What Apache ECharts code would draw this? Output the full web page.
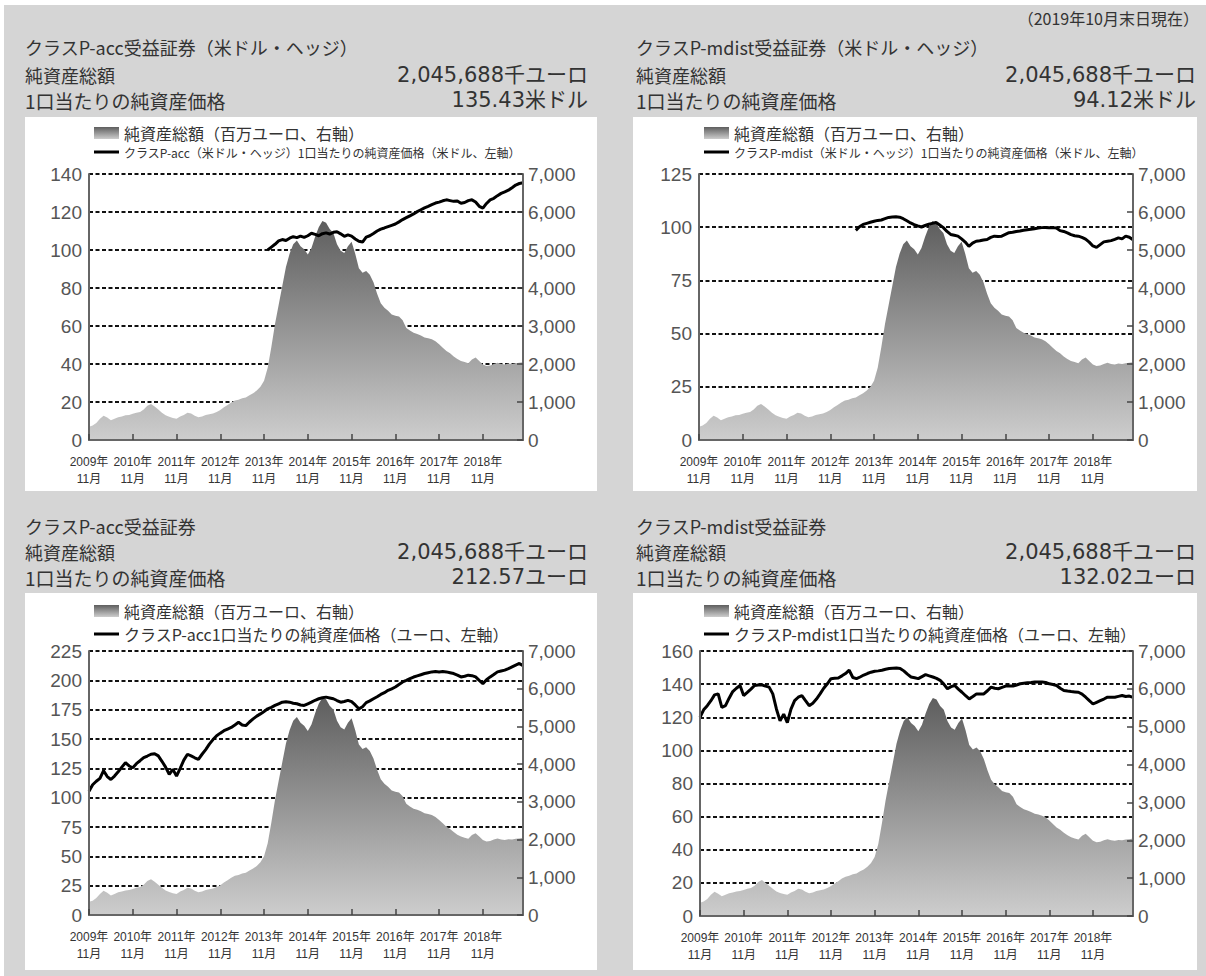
<!DOCTYPE html>
<html><head><meta charset="utf-8">
<script src="https://cdn.jsdelivr.net/npm/echarts@6/dist/echarts.min.js"></script>
<style>html,body{margin:0;padding:0;background:#fff}#c{width:1206px;height:976px}</style>
</head><body><div id="c"></div>
<script>
// ---------- data ----------
const startYear = 2009, startMonth = 11, monthCount = 120; // 2009-11 .. 2019-10
const months = [];
for (let k = 0; k < monthCount; k++) {
  const m0 = startMonth - 1 + k;
  months.push((startYear + Math.floor(m0 / 12)) + '-' + (m0 % 12 + 1));
}
// 純資産総額 (百万ユーロ) - fund total, monthly 2009-11 .. 2019-10
const aumMillionEur = [
  350,380,450,560,640,590,520,560,600,620,650,660,
  690,720,740,800,900,950,880,800,720,650,610,580,
  560,620,660,720,700,640,600,620,660,680,700,740,
  790,860,920,990,1040,1060,1100,1120,1180,1230,1300,1400,
  1560,1900,2450,3050,3550,4050,4550,4900,5150,5250,5100,5020,
  4880,5050,5350,5600,5760,5720,5550,5450,5150,4980,4920,5100,
  5220,4900,4520,4400,4450,4350,4150,3850,3600,3480,3400,3300,
  3270,3250,3150,2950,2880,2820,2790,2750,2700,2680,2650,2600,
  2520,2430,2340,2280,2200,2130,2080,2050,2020,2120,2170,2080,
  1990,1950,1960,2000,2030,2000,1990,2010,2000,2020,2030,2045
];
// クラスP-acc (米ドル・ヘッジ) NAV, from 2013-12
const usdAccStartIndex = 49;
const usdAccNav = [
  100.0,101.5,103.0,104.8,105.5,105.0,106.2,107.0,106.5,107.3,106.6,
  107.5,108.8,108.2,107.5,108.6,109.0,108.4,109.3,109.6,108.5,107.2,108.0,
  107.3,105.8,104.6,104.2,106.8,107.5,108.7,110.0,111.0,111.6,112.3,113.0,
  113.7,114.8,116.0,117.0,118.0,119.0,120.2,121.2,122.2,123.0,123.9,124.7,
  125.2,125.9,126.4,126.0,125.6,125.8,124.6,125.0,126.0,126.4,125.3,123.0,
  122.0,124.5,126.4,127.2,128.6,129.8,130.6,131.5,132.8,134.2,135.0,135.43
];
// クラスP-mdist (米ドル・ヘッジ) NAV, from 2013-06
const usdMdistStartIndex = 43;
const usdMdistNav = [
  98.5,100.2,101.3,101.8,102.3,
  102.8,103.2,103.4,104.0,104.6,104.8,104.9,104.7,104.0,103.0,102.0,101.2,
  100.6,100.1,100.8,101.4,101.8,102.2,101.0,99.8,98.0,96.6,96.2,95.8,
  94.5,93.0,91.0,92.5,93.4,93.6,94.0,94.2,95.2,95.8,95.6,95.8,
  96.6,97.4,97.6,98.0,98.2,98.6,98.8,99.0,99.3,99.6,99.8,99.9,
  99.7,99.8,99.6,98.4,98.0,97.3,96.5,96.0,95.8,95.2,94.4,93.0,
  91.2,90.5,91.8,93.1,93.4,93.7,94.3,95.0,94.5,95.8,95.3,94.12
];
// クラスP-acc (ユーロ) NAV
const eurAccNav = [
  105.5,111.0,114.0,116.5,123.0,118.0,115.5,118.4,122.0,126.0,129.8,127.0,
  125.5,129.0,131.5,134.1,135.5,137.0,137.5,135.6,131.0,126.0,119.8,124.1,
  118.4,125.0,132.0,137.0,135.6,134.0,132.7,137.0,141.0,145.6,149.5,152.8,
  155.0,157.1,158.5,159.9,162.0,164.2,162.0,161.4,164.5,167.1,169.5,171.4,
  173.5,175.7,177.0,178.6,180.0,181.4,181.8,181.4,180.5,180.0,179.0,178.6,
  180.0,181.4,183.0,184.3,185.2,185.7,185.0,184.3,182.8,181.4,182.0,182.9,
  181.8,179.0,175.7,177.5,181.0,182.5,184.3,186.0,188.0,189.5,191.5,192.8,
  194.3,196.5,198.6,200.0,201.5,202.8,203.8,204.8,205.8,206.5,207.2,207.5,
  207.2,207.5,207.2,206.5,205.8,204.5,202.9,203.5,204.4,204.0,202.9,200.0,
  197.2,200.5,202.9,205.0,207.2,208.0,208.7,210.0,211.5,213.0,214.4,212.57
];
// クラスP-mdist (ユーロ) NAV
const eurMdistNav = [
  120.0,124.5,127.0,130.0,133.5,134.1,126.0,127.0,131.5,135.5,137.5,139.2,
  133.1,135.0,137.0,139.2,139.5,139.6,138.8,138.2,134.1,125.0,117.8,121.9,
  116.8,124.9,130.0,132.1,133.1,130.0,127.0,128.5,131.0,134.1,137.5,140.2,
  143.3,143.5,143.7,145.0,146.4,148.4,144.0,143.3,144.3,145.5,146.4,147.2,
  147.8,148.0,148.4,149.0,149.4,149.6,149.8,149.5,148.0,146.0,144.3,143.8,
  143.3,144.5,145.7,145.0,144.3,143.5,142.3,140.0,137.2,138.5,139.2,137.0,
  135.1,133.0,131.1,132.5,134.1,134.0,134.1,136.0,138.2,137.5,137.2,138.0,
  138.8,138.8,138.8,139.5,140.2,140.5,140.8,141.0,141.3,141.3,141.3,141.0,
  140.2,139.8,139.2,137.5,136.2,135.8,135.5,135.3,135.1,134.0,132.1,130.0,
  128.0,129.0,130.0,131.0,132.1,132.1,132.1,132.6,133.1,132.5,132.8,132.02
];
const aumName = '純資産総額（百万ユーロ、右軸）';
const navNames = [
  'クラスP-acc（米ドル・ヘッジ）1口当たりの純資産価格（米ドル、左軸）',
  'クラスP-mdist（米ドル・ヘッジ）1口当たりの純資産価格（米ドル、左軸）',
  'クラスP-acc1口当たりの純資産価格（ユーロ、左軸）',
  'クラスP-mdist1口当たりの純資産価格（ユーロ、左軸）'
];
const leftAxisMax = [140, 125, 225, 160];
const leftAxisStep = [20, 25, 25, 20];
const rightAxisMax = 7000, rightAxisStep = 1000;
const titles = ['クラスP-acc受益証券（米ドル・ヘッジ）','クラスP-mdist受益証券（米ドル・ヘッジ）','クラスP-acc受益証券','クラスP-mdist受益証券'];
const totalAssetText = '2,045,688千ユーロ';
const navTexts = ['135.43米ドル','94.12米ドル','212.57ユーロ','132.02ユーロ'];
const asOfText = '（2019年10月末日現在）';

function pad(startIdx, arr) { return new Array(startIdx).fill(null).concat(arr); }
const navSeries = [pad(usdAccStartIndex, usdAccNav), pad(usdMdistStartIndex, usdMdistNav), eurAccNav, eurMdistNav];

// ---------- layout ----------
const CJK = '"Noto Sans CJK JP", sans-serif';
const NUM = '"Liberation Sans", "Noto Sans CJK JP", sans-serif';
const WIDE = '"DejaVu Sans", "Noto Sans CJK JP", sans-serif';
const NARROW = '"Liberation Sans Narrow", "Liberation Sans", "Noto Sans CJK JP", sans-serif';
const layout = [
  {grid:{left:89, top:174, width:434, height:266}, box:[25,117,572,374], lg:{left:94, top1:125, top2:145}, lg2:12, hx:25, hy:[47,75,100], vx:588},
  {grid:{left:699, top:174, width:434, height:266}, box:[633,117,564,374], lg:{left:704, top1:125, top2:145}, lg2:12, hx:636, hy:[47,75,100], vx:1196},
  {grid:{left:89, top:651, width:434, height:264}, box:[25,593,572,377], lg:{left:94, top1:603, top2:625}, lg2:16, hx:25, hy:[526,552,577], vx:588},
  {grid:{left:700, top:651, width:433, height:265}, box:[633,593,564,377], lg:{left:704, top1:603, top2:625}, lg2:16, hx:636, hy:[526,552,577], vx:1196}
];

function areaGrad() {
  return new echarts.graphic.LinearGradient(0, 0, 0, 1, [
    {offset: 0, color: '#5e5e5e'}, {offset: 1, color: '#cdcdcd'}
  ]);
}

const option = {
  backgroundColor: '#d5d5d5',
  animation: false,
  grid: [], xAxis: [], yAxis: [], series: [], legend: [], graphic: {elements: []}
};
const G = option.graphic.elements;
G.push({type:'rect', shape:{x:0,y:0,width:1206,height:5}, style:{fill:'#fff'}, z:-10, silent:true});
G.push({type:'rect', shape:{x:0,y:0,width:4,height:976}, style:{fill:'#fff'}, z:-10, silent:true});
const txt = (t, x, y, size, align, fam) => G.push({type:'text', x, y, z:10, silent:true,
  style:{text:t, fill:'#333', fontSize:size, lineHeight:size, fontFamily:fam, textAlign:align, align:align, textVerticalAlign:'middle', verticalAlign:'middle'}});
txt(asOfText, 1199, 18, 16, 'right', CJK);

layout.forEach((L, k) => {
  const b = L.box;
  G.push({type:'rect', shape:{x:b[0], y:b[1], width:b[2], height:b[3]}, style:{fill:'#fff'}, z:-10, silent:true});
  txt(titles[k], L.hx, L.hy[0], 18, 'left', CJK);
  txt('純資産総額', L.hx, L.hy[1], 18, 'left', CJK);
  txt('1口当たりの純資産価格', L.hx, L.hy[2], 19, 'left', CJK);
  txt(totalAssetText, L.vx, L.hy[1], 21, 'right', WIDE);
  txt(navTexts[k], L.vx, L.hy[2], 21, 'right', WIDE);

  option.grid.push(Object.assign({containLabel:false}, L.grid));
  option.xAxis.push({
    type:'category', gridIndex:k, data:months, boundaryGap:false, z:5,
    axisLine:{lineStyle:{color:'#666', width:2}},
    axisTick:{inside:true, length:6, interval:11, lineStyle:{color:'#444', width:1.5}},
    axisLabel:{interval:11, margin:13, fontSize:12, lineHeight:17, color:'#333', fontFamily:NARROW,
      formatter: v => { const p = v.split('-'); return p[0] + '年\n' + p[1] + '月'; }},
    splitLine:{show:false}
  });
  const yBase = option.yAxis.length;
  // left value axis (NAV)
  option.yAxis.push({
    type:'value', gridIndex:k, position:'left', min:0, max:leftAxisMax[k], interval:leftAxisStep[k], z:5,
    axisLine:{show:true, lineStyle:{color:'#666', width:2}}, axisTick:{show:false},
    axisLabel:{margin:7, fontSize:19, color:'#555', fontFamily:NUM}, splitLine:{show:false}
  });
  // right value axis (AUM)
  option.yAxis.push({
    type:'value', gridIndex:k, position:'right', min:0, max:rightAxisMax, interval:rightAxisStep, z:5,
    axisLine:{show:true, lineStyle:{color:'#666', width:2}},
    axisTick:{show:true, inside:true, length:6, lineStyle:{color:'#444', width:1.5}},
    axisLabel:{margin:5, fontSize:19, color:'#555', fontFamily:NUM, formatter: v => v.toLocaleString('en-US')},
    splitLine:{show:false}
  });
  // grid lines (same scale as the left axis), drawn beneath the area
  option.yAxis.push({
    type:'value', gridIndex:k, position:'left', min:0, max:leftAxisMax[k], interval:leftAxisStep[k], z:0,
    axisLine:{show:false}, axisTick:{show:false}, axisLabel:{show:false},
    splitLine:{show:true, lineStyle:{color:'#111', width:1.8, type:[4,2.5]}}
  });
  option.series.push({
    name: aumName, type:'line', xAxisIndex:k, yAxisIndex:yBase+1, data:aumMillionEur,
    symbol:'none', z:2, lineStyle:{width:0}, itemStyle:{color:areaGrad()},
    areaStyle:{color:areaGrad(), opacity:1}
  });
  option.series.push({
    name: navNames[k], type:'line', xAxisIndex:k, yAxisIndex:yBase, data:navSeries[k],
    symbol:'none', z:3, connectNulls:false, lineStyle:{color:'#000', width:3}, itemStyle:{color:'#000'}
  });
  option.legend.push({
    orient:'vertical', left:L.lg.left, top:L.lg.top1, padding:0, itemWidth:25, itemHeight:12,
    selectedMode:false,
    textStyle:{fontSize:16, lineHeight:16, color:'#333', fontFamily:CJK},
    data:[{name:aumName, icon:'rect', itemStyle:{color:areaGrad()}}]
  });
  option.legend.push({
    orient:'vertical', left:L.lg.left, top:L.lg.top2, padding:0, itemWidth:25, itemHeight:3,
    selectedMode:false,
    textStyle:{fontSize:L.lg2, lineHeight:L.lg2 + 2, color:'#333', fontFamily:CJK},
    data:[{name:navNames[k], icon:'rect', itemStyle:{color:'#000'}}]
  });
});

const chart = echarts.init(document.getElementById('c'), null, {renderer:'svg', width:1206, height:976});
chart.setOption(option);
</script>
</body></html>
